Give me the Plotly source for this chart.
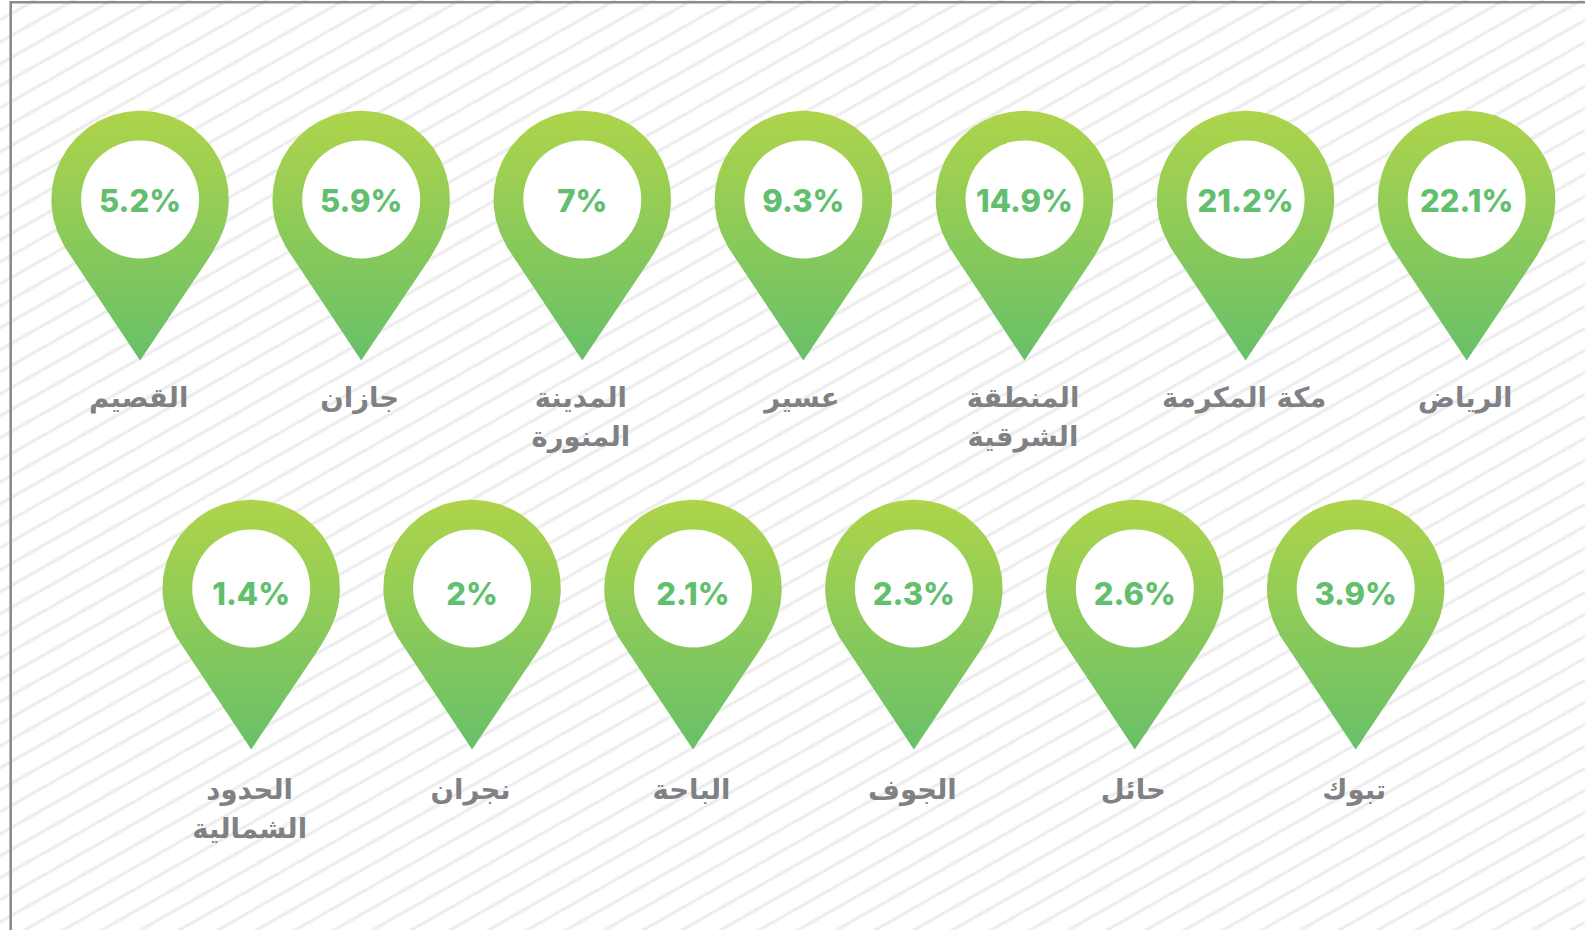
import numpy as np
import plotly.graph_objects as go

# ---- data (right to left, as read in Arabic) ----
row1_regions = ["الرياض", "مكة المكرمة", "المنطقة<br>الشرقية", "عسير", "المدينة<br>المنورة", "جازان", "القصيم"]
row1_values = ["22.1%", "21.2%", "14.9%", "9.3%", "7%", "5.9%", "5.2%"]
row2_regions = ["تبوك", "حائل", "الجوف", "الباحة", "نجران", "الحدود<br>الشمالية"]
row2_values = ["3.9%", "2.6%", "2.3%", "2.1%", "2%", "1.4%"]

# ---- layout constants ----
W, H = 1585, 930
ROWS = [
    dict(regions=row1_regions, values=row1_values, x0=1466.7, step=221.1, cy=199.5, label_dy=200.5, value_dy=5.0),
    dict(regions=row2_regions, values=row2_values, x0=1355.7, step=220.9, cy=588.5, label_dy=204.0, value_dy=8.5),
]
R_OUT, R_IN, TIP = 88.7, 59.0, 161.0
LABEL_DX, LINE_DY = -1.5, 39.0
GRADIENT = [[0, "#aed44a"], [1, "#68c069"]]
TEXT_GREEN = "#62bf6d"
LABEL_GREY = "#808184"
STRIPE = "#eeeeee"
FRAME = "#8c8c8e"
SLOPE, GAP, PHASE = 0.569, 22.0, 20.0


def bezier(p, n=40):
    t = np.linspace(0, 1, n)
    bx = sum(c * t**i * (1 - t) ** (3 - i) * p[i][0] for i, c in enumerate([1, 3, 3, 1]))
    by = sum(c * t**i * (1 - t) ** (3 - i) * p[i][1] for i, c in enumerate([1, 3, 3, 1]))
    return bx, by


def pin_outline(cx, cy):
    """Teardrop outline: upper half circle, a shoulder curve, then a straight run to the tip."""
    a = np.linspace(np.pi, 0, 80)
    top_x, top_y = R_OUT * np.cos(a), -R_OUT * np.sin(a)
    ax, ay = bezier([(R_OUT, 0), (R_OUT, 22), (82, 39), (64.5, 65)])
    rx = np.r_[ax[1:], 0.0]
    ry = np.r_[ay[1:], TIP]
    xs = np.r_[top_x, rx, -rx[::-1][1:]]
    ys = np.r_[top_y, ry, ry[::-1][1:]]
    return (cx + xs).tolist(), (cy + ys).tolist()


fig = go.Figure()

# background stripes
sx, sy = [], []
c = PHASE - GAP
while c < H + SLOPE * W + GAP:
    sx += [0, W, None]
    sy += [c, c - SLOPE * W, None]
    c += GAP
fig.add_trace(go.Scatter(x=sx, y=sy, mode="lines", line=dict(color=STRIPE, width=3.3), hoverinfo="skip"))

for row in ROWS:
    centres = [row["x0"] - i * row["step"] for i in range(len(row["values"]))]
    cy = row["cy"]
    for cx in centres:
        ox, oy = pin_outline(cx, cy)
        fig.add_trace(go.Scatter(
            x=ox, y=oy, mode="lines", line=dict(width=0), fill="toself",
            fillgradient=dict(type="vertical", colorscale=GRADIENT, start=cy - R_OUT, stop=cy + TIP),
            hoverinfo="skip",
        ))
    fig.add_trace(go.Scatter(
        x=centres, y=[cy] * len(centres), mode="markers",
        marker=dict(size=2 * R_IN, color="white", line=dict(width=0)),
        hoverinfo="skip",
    ))
    fig.add_trace(go.Scatter(
        x=centres, y=[cy + row["value_dy"]] * len(centres), mode="text",
        text=row["values"], textposition="middle center",
        textfont=dict(family="Inter", size=31, color=TEXT_GREEN, weight=800),
        hoverinfo="skip",
    ))
    lx, ly, lt = [], [], []
    for cx, name in zip(centres, row["regions"]):
        for j, part in enumerate(name.split("<br>")):
            lx.append(cx + LABEL_DX)
            ly.append(cy + row["label_dy"] + j * LINE_DY)
            lt.append(part)
    fig.add_trace(go.Scatter(
        x=lx, y=ly, mode="text", text=lt, textposition="middle center",
        textfont=dict(family="DejaVu Sans", size=27.5, color=LABEL_GREY, weight=700),
        hoverinfo="skip",
    ))

# frame on the left and top edges
fig.add_trace(go.Scatter(x=[10.7, 10.7, W], y=[H, 2.2, 2.2], mode="lines",
                         line=dict(color=FRAME, width=2.6), hoverinfo="skip"))

fig.update_layout(
    width=W, height=H, margin=dict(l=0, r=0, t=0, b=0), showlegend=False,
    paper_bgcolor="white", plot_bgcolor="white",
    xaxis=dict(range=[0, W], visible=False, fixedrange=True),
    yaxis=dict(range=[H, 0], visible=False, fixedrange=True),
)
fig.write_html("out.html", config={"displayModeBar": False},
               post_script="document.body.style.margin='0';document.body.style.overflow='hidden';")
